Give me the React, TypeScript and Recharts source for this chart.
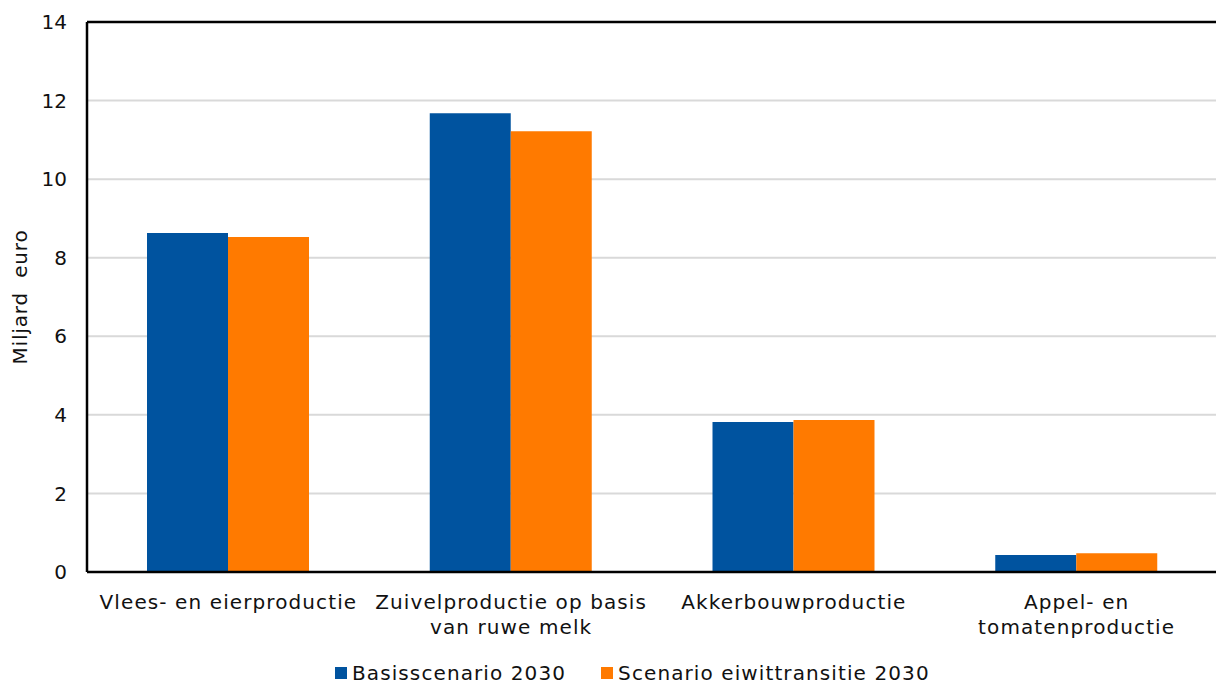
import React from 'react';
import { BarChart, Bar, XAxis, YAxis, CartesianGrid, Legend, ReferenceLine } from 'recharts';

// Productiewaarde per sector, miljard euro
const categories = [
  'Vlees- en eierproductie',
  'Zuivelproductie op basis\nvan ruwe melk',
  'Akkerbouwproductie',
  'Appel- en\ntomatenproductie',
];
const basisscenario = [8.63, 11.68, 3.82, 0.43];
const eiwittransitie = [8.53, 11.22, 3.87, 0.48];
const yTicks = [0, 2, 4, 6, 8, 10, 12, 14];

const series = [
  { key: 'basis', name: 'Basisscenario 2030', color: '#00539F' },
  { key: 'eiwit', name: 'Scenario eiwittransitie 2030', color: '#FF7A00' },
];

const data = categories.map((name, i) => ({
  name,
  basis: basisscenario[i],
  eiwit: eiwittransitie[i],
}));

const FONT = '"DejaVu Sans", Verdana, sans-serif';

const CategoryTick = (props: any) => {
  const { x, y, payload } = props;
  const lines = String(payload.value).split('\n');
  return (
    <g transform={`translate(${x},${y})`}>
      {lines.map((line, i) => (
        <text
          key={i}
          x={0}
          y={29 + i * 25}
          textAnchor="middle"
          fill="#111"
          fontSize={20}
          fontFamily={FONT}
          letterSpacing={1.1}
        >
          {line}
        </text>
      ))}
    </g>
  );
};

const AxisTitle = (props: any) => {
  const { viewBox } = props;
  const cy = viewBox.y + viewBox.height / 2;
  return (
    <text
      x={27}
      y={cy}
      transform={`rotate(-90, 27, ${cy})`}
      textAnchor="middle"
      fill="#111"
      fontSize={20}
      fontFamily={FONT}
      letterSpacing={0.8}
      style={{ whiteSpace: 'pre' }}
    >
      {'Miljard  euro'}
    </text>
  );
};

const LegendContent = () => (
  <div style={{ display: 'flex', paddingLeft: 335, fontFamily: FONT, fontSize: 20, letterSpacing: 1.1, color: '#111' }}>
    {series.map((s, i) => (
      <div key={s.key} style={{ display: 'flex', alignItems: 'center', marginLeft: i ? 35 : 0 }}>
        <span style={{ width: 12, height: 12, background: s.color, marginRight: 5, display: 'inline-block' }} />
        <span>{s.name}</span>
      </div>
    ))}
  </div>
);

export default function App() {
  return (
    <div style={{ position: 'absolute', left: 0, top: 0, background: '#fff' }}>
      <BarChart
        width={1218}
        height={686}
        data={data}
        margin={{ top: 22, right: 0, bottom: 44, left: 0 }}
        barGap={0}
      >
        <CartesianGrid vertical={false} stroke="#D9D9D9" strokeWidth={2} />
        <XAxis
          dataKey="name"
          height={70}
          tickLine={false}
          axisLine={{ stroke: '#000', strokeWidth: 2.5 }}
          tick={<CategoryTick />}
          interval={0}
        />
        <YAxis
          width={87}
          domain={[0, 14]}
          ticks={yTicks}
          tickLine={false}
          tickSize={0}
          tickMargin={20}
          axisLine={{ stroke: '#000', strokeWidth: 2.5 }}
          tick={{ fill: '#111', fontSize: 20, fontFamily: FONT }}
          label={<AxisTitle />}
        />
        <ReferenceLine y={14} stroke="#000" strokeWidth={2.5} />
        {series.map((s) => (
          <Bar key={s.key} dataKey={s.key} name={s.name} fill={s.color} barSize={81} isAnimationActive={false} />
        ))}
        <Legend
          verticalAlign="middle"
          layout="horizontal"
          content={<LegendContent />}
          wrapperStyle={{ top: 661, left: 0, width: 1216, height: 26 }}
        />
      </BarChart>
    </div>
  );
}
